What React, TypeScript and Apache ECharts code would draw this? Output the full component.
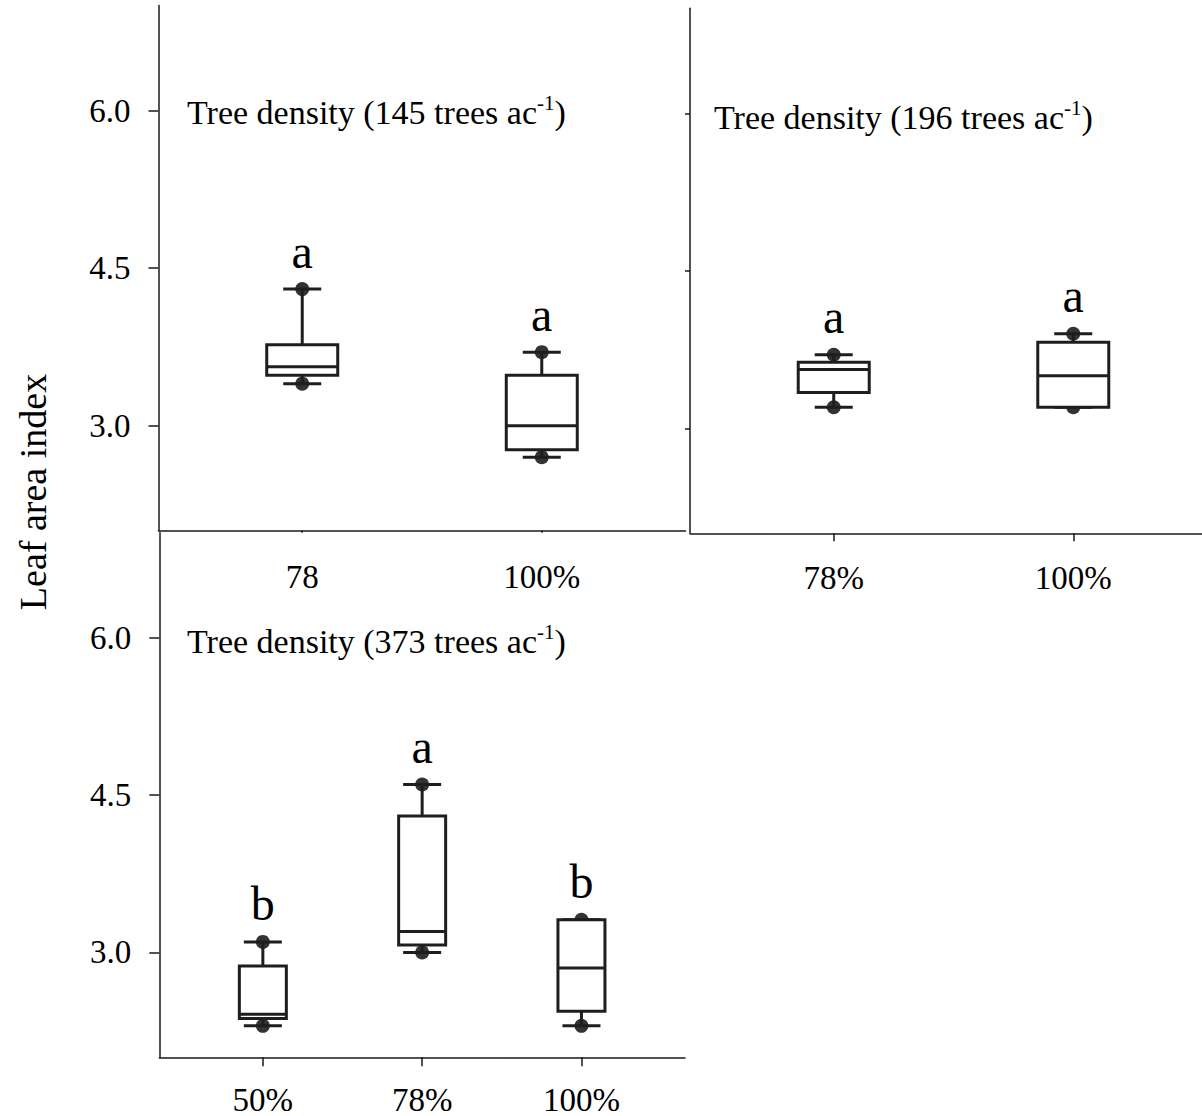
import React, { useEffect, useRef } from "react";
import * as echarts from "echarts";

// ---------- data ----------
const Y_AXIS_TITLE = "Leaf area index";
const Y_MIN = 2;
const Y_MAX = 7;
const Y_TICKS = [3.0, 4.5, 6.0];

// Panel 1: 145 trees/ac
const P1_DENSITY = "145";
const P1_CATEGORIES = ["78", "100%"];
const P1_MIN = [3.4, 2.7];
const P1_Q1 = [3.48, 2.77];
const P1_MEDIAN = [3.56, 3.0];
const P1_Q3 = [3.77, 3.48];
const P1_MAX = [4.3, 3.7];
const P1_LETTERS = ["a", "a"];

// Panel 2: 196 trees/ac
const P2_DENSITY = "196";
const P2_CATEGORIES = ["78%", "100%"];
const P2_MIN = [3.2, 3.2];
const P2_Q1 = [3.34, 3.2];
const P2_MEDIAN = [3.56, 3.5];
const P2_Q3 = [3.63, 3.82];
const P2_MAX = [3.7, 3.9];
const P2_LETTERS = ["a", "a"];

// Panel 3: 373 trees/ac
const P3_DENSITY = "373";
const P3_CATEGORIES = ["50%", "78%", "100%"];
const P3_MIN = [2.3, 3.0, 2.3];
const P3_Q1 = [2.37, 3.07, 2.44];
const P3_MEDIAN = [2.41, 3.2, 2.85];
const P3_Q3 = [2.87, 4.3, 3.31];
const P3_MAX = [3.1, 4.6, 3.31];
const P3_LETTERS = ["b", "a", "b"];

// ---------- styles ----------
const SERIF = "'Times New Roman', 'Liberation Serif', serif";
const AXIS_COLOR = "#1a1a1a";
const BOX_COLOR = "#1e1e1e";

type Panel = {
  density: string;
  cats: string[];
  mn: number[];
  q1: number[];
  med: number[];
  q3: number[];
  mx: number[];
  letters: string[];
  grid: { left: number; top: number; width: number; height: number };
  xMin: number;
  xMax: number;
  boxW: number;
  showYLabels: boolean;
  yTickLen: number;
  xTickLen: number;
  xLabelMargin: number;
  titleX: number;
  titleY: number;
};

const PANELS: Panel[] = [
  {
    density: P1_DENSITY, cats: P1_CATEGORIES, mn: P1_MIN, q1: P1_Q1, med: P1_MEDIAN, q3: P1_Q3, mx: P1_MAX, letters: P1_LETTERS,
    grid: { left: 158.5, top: 5.5, width: 527, height: 525.2 },
    xMin: 0.4, xMax: 2.6, boxW: 71, showYLabels: true, yTickLen: 10, xTickLen: 2, xLabelMargin: 30,
    titleX: 187, titleY: 112,
  },
  {
    density: P2_DENSITY, cats: P2_CATEGORIES, mn: P2_MIN, q1: P2_Q1, med: P2_MEDIAN, q3: P2_Q3, mx: P2_MAX, letters: P2_LETTERS,
    grid: { left: 690, top: 8.3, width: 527, height: 525 },
    xMin: 0.4, xMax: 2.6, boxW: 71, showYLabels: false, yTickLen: 5, xTickLen: 8, xLabelMargin: 28,
    titleX: 714, titleY: 117,
  },
  {
    density: P3_DENSITY, cats: P3_CATEGORIES, mn: P3_MIN, q1: P3_Q1, med: P3_MEDIAN, q3: P3_Q3, mx: P3_MAX, letters: P3_LETTERS,
    grid: { left: 159.3, top: 532.7, width: 525.7, height: 524.6 },
    xMin: 0.35, xMax: 3.65, boxW: 47, showYLabels: true, yTickLen: 10, xTickLen: 9, xLabelMargin: 26,
    titleX: 187, titleY: 641,
  },
];

const CAP_W = 38;

function makeBoxRender(boxW: number, letters: string[]) {
  return (params: any, api: any) => {
    const x = api.value(0);
    const pMin = api.coord([x, api.value(1)]);
    const pQ1 = api.coord([x, api.value(2)]);
    const pMed = api.coord([x, api.value(3)]);
    const pQ3 = api.coord([x, api.value(4)]);
    const pMax = api.coord([x, api.value(5)]);
    const cx = pMin[0];
    const ln = { stroke: BOX_COLOR, lineWidth: 3 };
    return {
      type: "group",
      children: [
        { type: "line", shape: { x1: cx, y1: pMax[1], x2: cx, y2: pQ3[1] }, style: ln },
        { type: "line", shape: { x1: cx, y1: pQ1[1], x2: cx, y2: pMin[1] }, style: ln },
        { type: "line", shape: { x1: cx - CAP_W / 2, y1: pMax[1], x2: cx + CAP_W / 2, y2: pMax[1] }, style: ln },
        { type: "line", shape: { x1: cx - CAP_W / 2, y1: pMin[1], x2: cx + CAP_W / 2, y2: pMin[1] }, style: ln },
        {
          type: "rect",
          shape: { x: cx - boxW / 2, y: pQ3[1], width: boxW, height: pQ1[1] - pQ3[1] },
          style: { fill: "#fff", stroke: BOX_COLOR, lineWidth: 3 },
        },
        { type: "line", shape: { x1: cx - boxW / 2, y1: pMed[1], x2: cx + boxW / 2, y2: pMed[1] }, style: ln },
        {
          type: "text",
          x: cx,
          y: pMax[1] - 38,
          style: {
            text: letters[params.dataIndex],
            fontSize: 48,
            fontFamily: SERIF,
            fill: "#000",
            align: "center",
            verticalAlign: "middle",
          },
        },
      ],
    };
  };
}

function buildOption() {
  const grid: any[] = [];
  const xAxis: any[] = [];
  const yAxis: any[] = [];
  const series: any[] = [];
  const graphic: any[] = [];

  PANELS.forEach((p, i) => {
    grid.push({ ...p.grid, outerBoundsMode: "none", containLabel: false });
    const positions = p.cats.map((_, k) => k + 1);
    xAxis.push({
      gridIndex: i,
      type: "value",
      min: p.xMin,
      max: p.xMax,
      axisLine: { show: true, onZero: false, lineStyle: { color: AXIS_COLOR, width: 1.5 } },
      axisTick: { show: true, customValues: positions, length: p.xTickLen, lineStyle: { color: AXIS_COLOR, width: 1.5 } },
      axisLabel: {
        show: true,
        customValues: positions,
        formatter: (v: number) => p.cats[Math.round(v) - 1] ?? "",
        fontSize: 33,
        fontFamily: SERIF,
        color: "#000",
        margin: p.xLabelMargin,
      },
      splitLine: { show: false },
    });
    yAxis.push({
      gridIndex: i,
      type: "value",
      min: Y_MIN,
      max: Y_MAX,
      axisLine: { show: true, onZero: false, lineStyle: { color: AXIS_COLOR, width: 1.5 } },
      axisTick: { show: true, customValues: Y_TICKS, length: p.yTickLen, lineStyle: { color: AXIS_COLOR, width: 1.5 } },
      axisLabel: {
        show: p.showYLabels,
        customValues: Y_TICKS,
        formatter: (v: number) => v.toFixed(1),
        fontSize: 33,
        fontFamily: SERIF,
        color: "#000",
        margin: 28,
      },
      splitLine: { show: false },
    });

    const dots: number[][] = [];
    p.cats.forEach((_, k) => {
      dots.push([k + 1, p.mn[k]]);
      dots.push([k + 1, p.mx[k]]);
    });
    series.push({
      type: "scatter",
      xAxisIndex: i,
      yAxisIndex: i,
      data: dots,
      symbol: "circle",
      symbolSize: 14,
      itemStyle: { color: "#000" },
      z: 2,
      silent: true,
    });
    series.push({
      type: "custom",
      xAxisIndex: i,
      yAxisIndex: i,
      data: p.cats.map((_, k) => [k + 1, p.mn[k], p.q1[k], p.med[k], p.q3[k], p.mx[k]]),
      encode: { x: 0, y: [1, 2, 3, 4, 5] },
      renderItem: makeBoxRender(p.boxW, p.letters),
      z: 3,
      silent: true,
    });

    graphic.push({
      type: "text",
      x: p.titleX,
      y: p.titleY,
      style: {
        text: `{t|Tree density (${p.density} trees ac}{s|-1}{t|)}`,
        align: "left",
        verticalAlign: "middle",
        rich: {
          t: { fontSize: 34, fontFamily: SERIF, fill: "#000", lineHeight: 40 },
          s: { fontSize: 21, fontFamily: SERIF, fill: "#000", lineHeight: 22, verticalAlign: "top" },
        },
      },
    });
  });

  graphic.push({
    type: "text",
    x: 33,
    y: 492,
    rotation: Math.PI / 2,
    style: {
      text: Y_AXIS_TITLE,
      fontSize: 38,
      fontFamily: SERIF,
      fill: "#000",
      align: "center",
      verticalAlign: "middle",
    },
  });

  return {
    animation: false,
    backgroundColor: "#fff",
    grid,
    xAxis,
    yAxis,
    series,
    graphic,
  };
}

export default function App() {
  const ref = useRef<HTMLDivElement>(null);
  useEffect(() => {
    if (!ref.current) return;
    const chart = echarts.init(ref.current, undefined, { renderer: "svg" });
    chart.setOption(buildOption() as any);
    return () => chart.dispose();
  }, []);
  return (
    <div
      ref={ref}
      style={{ position: "fixed", left: 0, top: 0, width: 1202, height: 1116, background: "#fff" }}
    />
  );
}
